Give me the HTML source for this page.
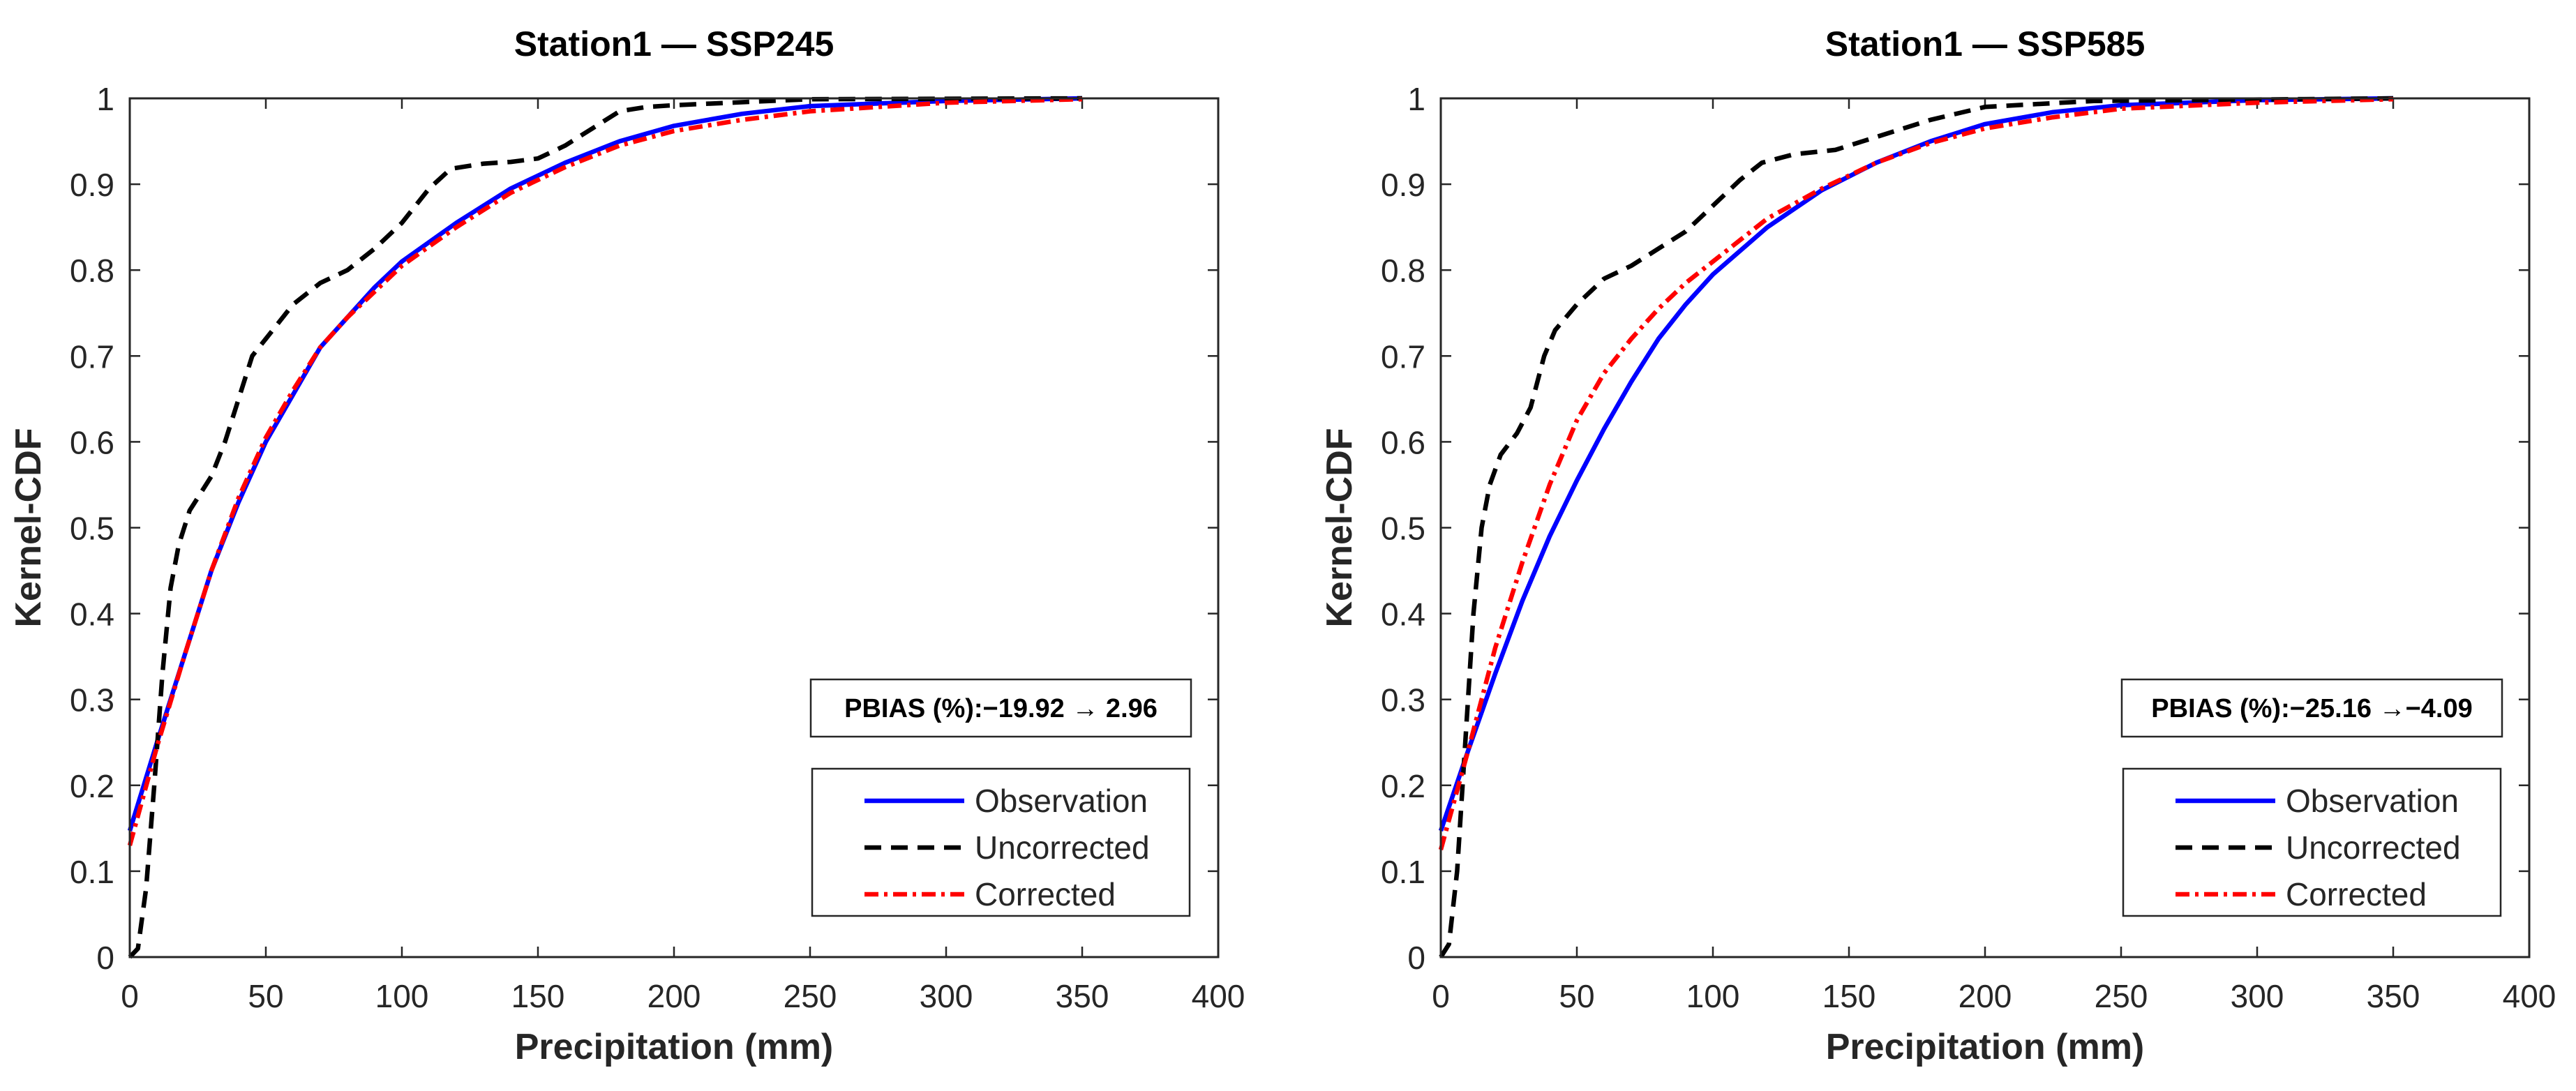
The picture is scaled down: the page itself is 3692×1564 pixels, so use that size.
<!DOCTYPE html>
<html><head><meta charset="utf-8"><style>
html,body{margin:0;padding:0;background:#fff;}
svg text{font-family:"Liberation Sans",Arial,sans-serif;}
</style></head><body>
<svg id="fig" width="3692" height="1559" viewBox="0 0 3692 1559" xmlns="http://www.w3.org/2000/svg"></svg>
<script>
const xTicks=[0,50,100,150,200,250,300,350,400];
const yTicks=[0,0.1,0.2,0.3,0.4,0.5,0.6,0.7,0.8,0.9,1];
const yTickLabels=['0','0.1','0.2','0.3','0.4','0.5','0.6','0.7','0.8','0.9','1'];
const titles=['Station1 — SSP245','Station1 — SSP585'];
const pbiasTexts=['PBIAS (%):−19.92 → 2.96','PBIAS (%):−25.16 →−4.09'];
const seriesNames=['Observation','Uncorrected','Corrected'];
const obsX1=[0,10,20,30,40,50,60,70,80,90,100,120,140,160,180,200,225,250,300,350];
const obsY1=[0.147,0.25,0.35,0.45,0.53,0.6,0.655,0.71,0.745,0.78,0.81,0.855,0.895,0.925,0.95,0.968,0.982,0.991,0.997,1.0];
const corX1=[0,10,20,30,40,50,60,70,80,90,100,120,140,160,180,200,225,250,300,350];
const corY1=[0.13,0.245,0.35,0.45,0.535,0.605,0.66,0.71,0.745,0.775,0.805,0.85,0.89,0.92,0.945,0.962,0.975,0.985,0.995,0.999];
const uncX1=[0,3,6,9,12,15,18,22,26,30,35,40,45,50,60,70,80,90,100,110,118,130,140,150,160,170,180,190,200,250,350];
const uncY1=[0,0.01,0.08,0.2,0.33,0.43,0.48,0.52,0.54,0.56,0.6,0.65,0.7,0.72,0.76,0.785,0.8,0.825,0.855,0.895,0.918,0.924,0.926,0.93,0.945,0.965,0.985,0.99,0.992,0.999,1.0];
const obsX2=[0,10,20,30,40,50,60,70,80,90,100,120,140,160,180,200,225,250,300,350];
const obsY2=[0.147,0.24,0.33,0.415,0.49,0.555,0.615,0.67,0.72,0.76,0.795,0.85,0.893,0.925,0.95,0.97,0.984,0.992,0.998,1.0];
const corX2=[0,10,20,30,40,50,60,70,80,90,100,120,140,160,180,200,225,250,300,350];
const corY2=[0.125,0.24,0.36,0.46,0.55,0.625,0.68,0.72,0.755,0.785,0.81,0.86,0.895,0.925,0.948,0.965,0.978,0.988,0.995,0.999];
const uncX2=[0,3,6,9,12,15,18,22,28,33,38,42,50,60,70,80,90,100,110,118,130,145,160,180,200,240,350];
const uncY2=[0,0.015,0.1,0.25,0.4,0.5,0.55,0.585,0.61,0.64,0.7,0.73,0.76,0.79,0.805,0.825,0.845,0.875,0.905,0.925,0.935,0.94,0.955,0.975,0.99,0.997,1.0];

const NS='http://www.w3.org/2000/svg';
const svg=document.getElementById('fig');
function mk(tag,attrs,parent){const e=document.createElementNS(NS,tag);for(const k in attrs)e.setAttribute(k,attrs[k]);(parent||svg).appendChild(e);return e;}

const panels=[
 {left:186,series:[[obsX1,obsY1],[uncX1,uncY1],[corX1,corY1]]},
 {left:2065,series:[[obsX2,obsY2],[uncX2,uncY2],[corX2,corY2]]}
];
const plotTop=141,W=1560,H=1231;
const styles=[
 {stroke:'#0000ff',dash:''},
 {stroke:'#000000',dash:'24 14'},
 {stroke:'#ff0000',dash:'20 8 5 8'}
];
panels.forEach((p,pi)=>{
 const g=mk('g',{});
 
 
 const sx=v=>p.left+v/400*W;
 const sy=v=>plotTop+H-v*H;
 xTicks.forEach(t=>{
  const x=sx(t);
  mk('line',{x1:x,y1:plotTop+H,x2:x,y2:plotTop+H-15,stroke:'#262626','stroke-width':2.5},g);
  mk('line',{x1:x,y1:plotTop,x2:x,y2:plotTop+15,stroke:'#262626','stroke-width':2.5},g);
  const tl=mk('text',{x:x,y:plotTop+H+72,'text-anchor':'middle','font-size':46,fill:'#262626'},g);
  tl.textContent=String(t);
  
  
 });
 yTicks.forEach((t,i)=>{
  const y=sy(t);
  mk('line',{x1:p.left,y1:y,x2:p.left+15,y2:y,stroke:'#262626','stroke-width':2.5},g);
  mk('line',{x1:p.left+W,y1:y,x2:p.left+W-15,y2:y,stroke:'#262626','stroke-width':2.5},g);
  const tl=mk('text',{x:p.left-22,y:y+17,'text-anchor':'end','font-size':46,fill:'#262626'},g);
  tl.textContent=yTickLabels[i];
  
  
 });
 p.series.forEach((s,si)=>{
  const pts=s[0].map((x,i)=>sx(x).toFixed(1)+','+sy(s[1][i]).toFixed(1)).join(' ');
  const pl=mk('polyline',{points:pts,fill:'none',stroke:styles[si].stroke,'stroke-width':6.5,'stroke-dasharray':styles[si].dash,'stroke-linejoin':'round'},g);
  
  
 });
 const box=mk('rect',{x:p.left,y:plotTop,width:W,height:H,fill:'none',stroke:'#262626','stroke-width':3},g);
 
 
 const tt=mk('text',{x:p.left+W/2,y:80,'text-anchor':'middle','font-size':50,'font-weight':'bold',fill:'#000'},g);
 tt.textContent=titles[pi];
 
 
 const xl=mk('text',{x:p.left+W/2,y:1518,'text-anchor':'middle','font-size':52,'font-weight':'bold',fill:'#262626'},g);
 xl.textContent='Precipitation (mm)';
 
 
 const yx=p.left-128, yy=plotTop+H/2;
 const yl=mk('text',{x:yx,y:yy,'text-anchor':'middle','font-size':52,'font-weight':'bold',fill:'#262626',transform:'rotate(-90 '+yx+' '+yy+')'},g);
 yl.textContent='Kernel-CDF';
 
 
 const bx=p.left+W-584, bw=545;
 const pb=mk('rect',{x:bx,y:974,width:bw,height:82,fill:'#fff',stroke:'#262626','stroke-width':2.5},g);
 
 
 const pt=mk('text',{x:bx+bw/2,y:1028,'text-anchor':'middle','font-size':38,'font-weight':'bold',fill:'#000'},g);
 pt.textContent=pbiasTexts[pi];
 
 
 const lx=bx+2, lw=541;
 const lg=mk('rect',{x:lx,y:1102,width:lw,height:211,fill:'#fff',stroke:'#262626','stroke-width':2.5},g);
 
 
 seriesNames.forEach((n,si)=>{
  const y=1148+si*67;
  const ln=mk('line',{x1:lx+75,y1:y,x2:lx+218,y2:y,stroke:styles[si].stroke,'stroke-width':6.5,'stroke-dasharray':styles[si].dash},g);
  
  
  const lt=mk('text',{x:lx+233,y:y+16,'font-size':46,fill:'#262626'},g);
  lt.textContent=n;
  
  
 });
});
</script>
</body></html>
